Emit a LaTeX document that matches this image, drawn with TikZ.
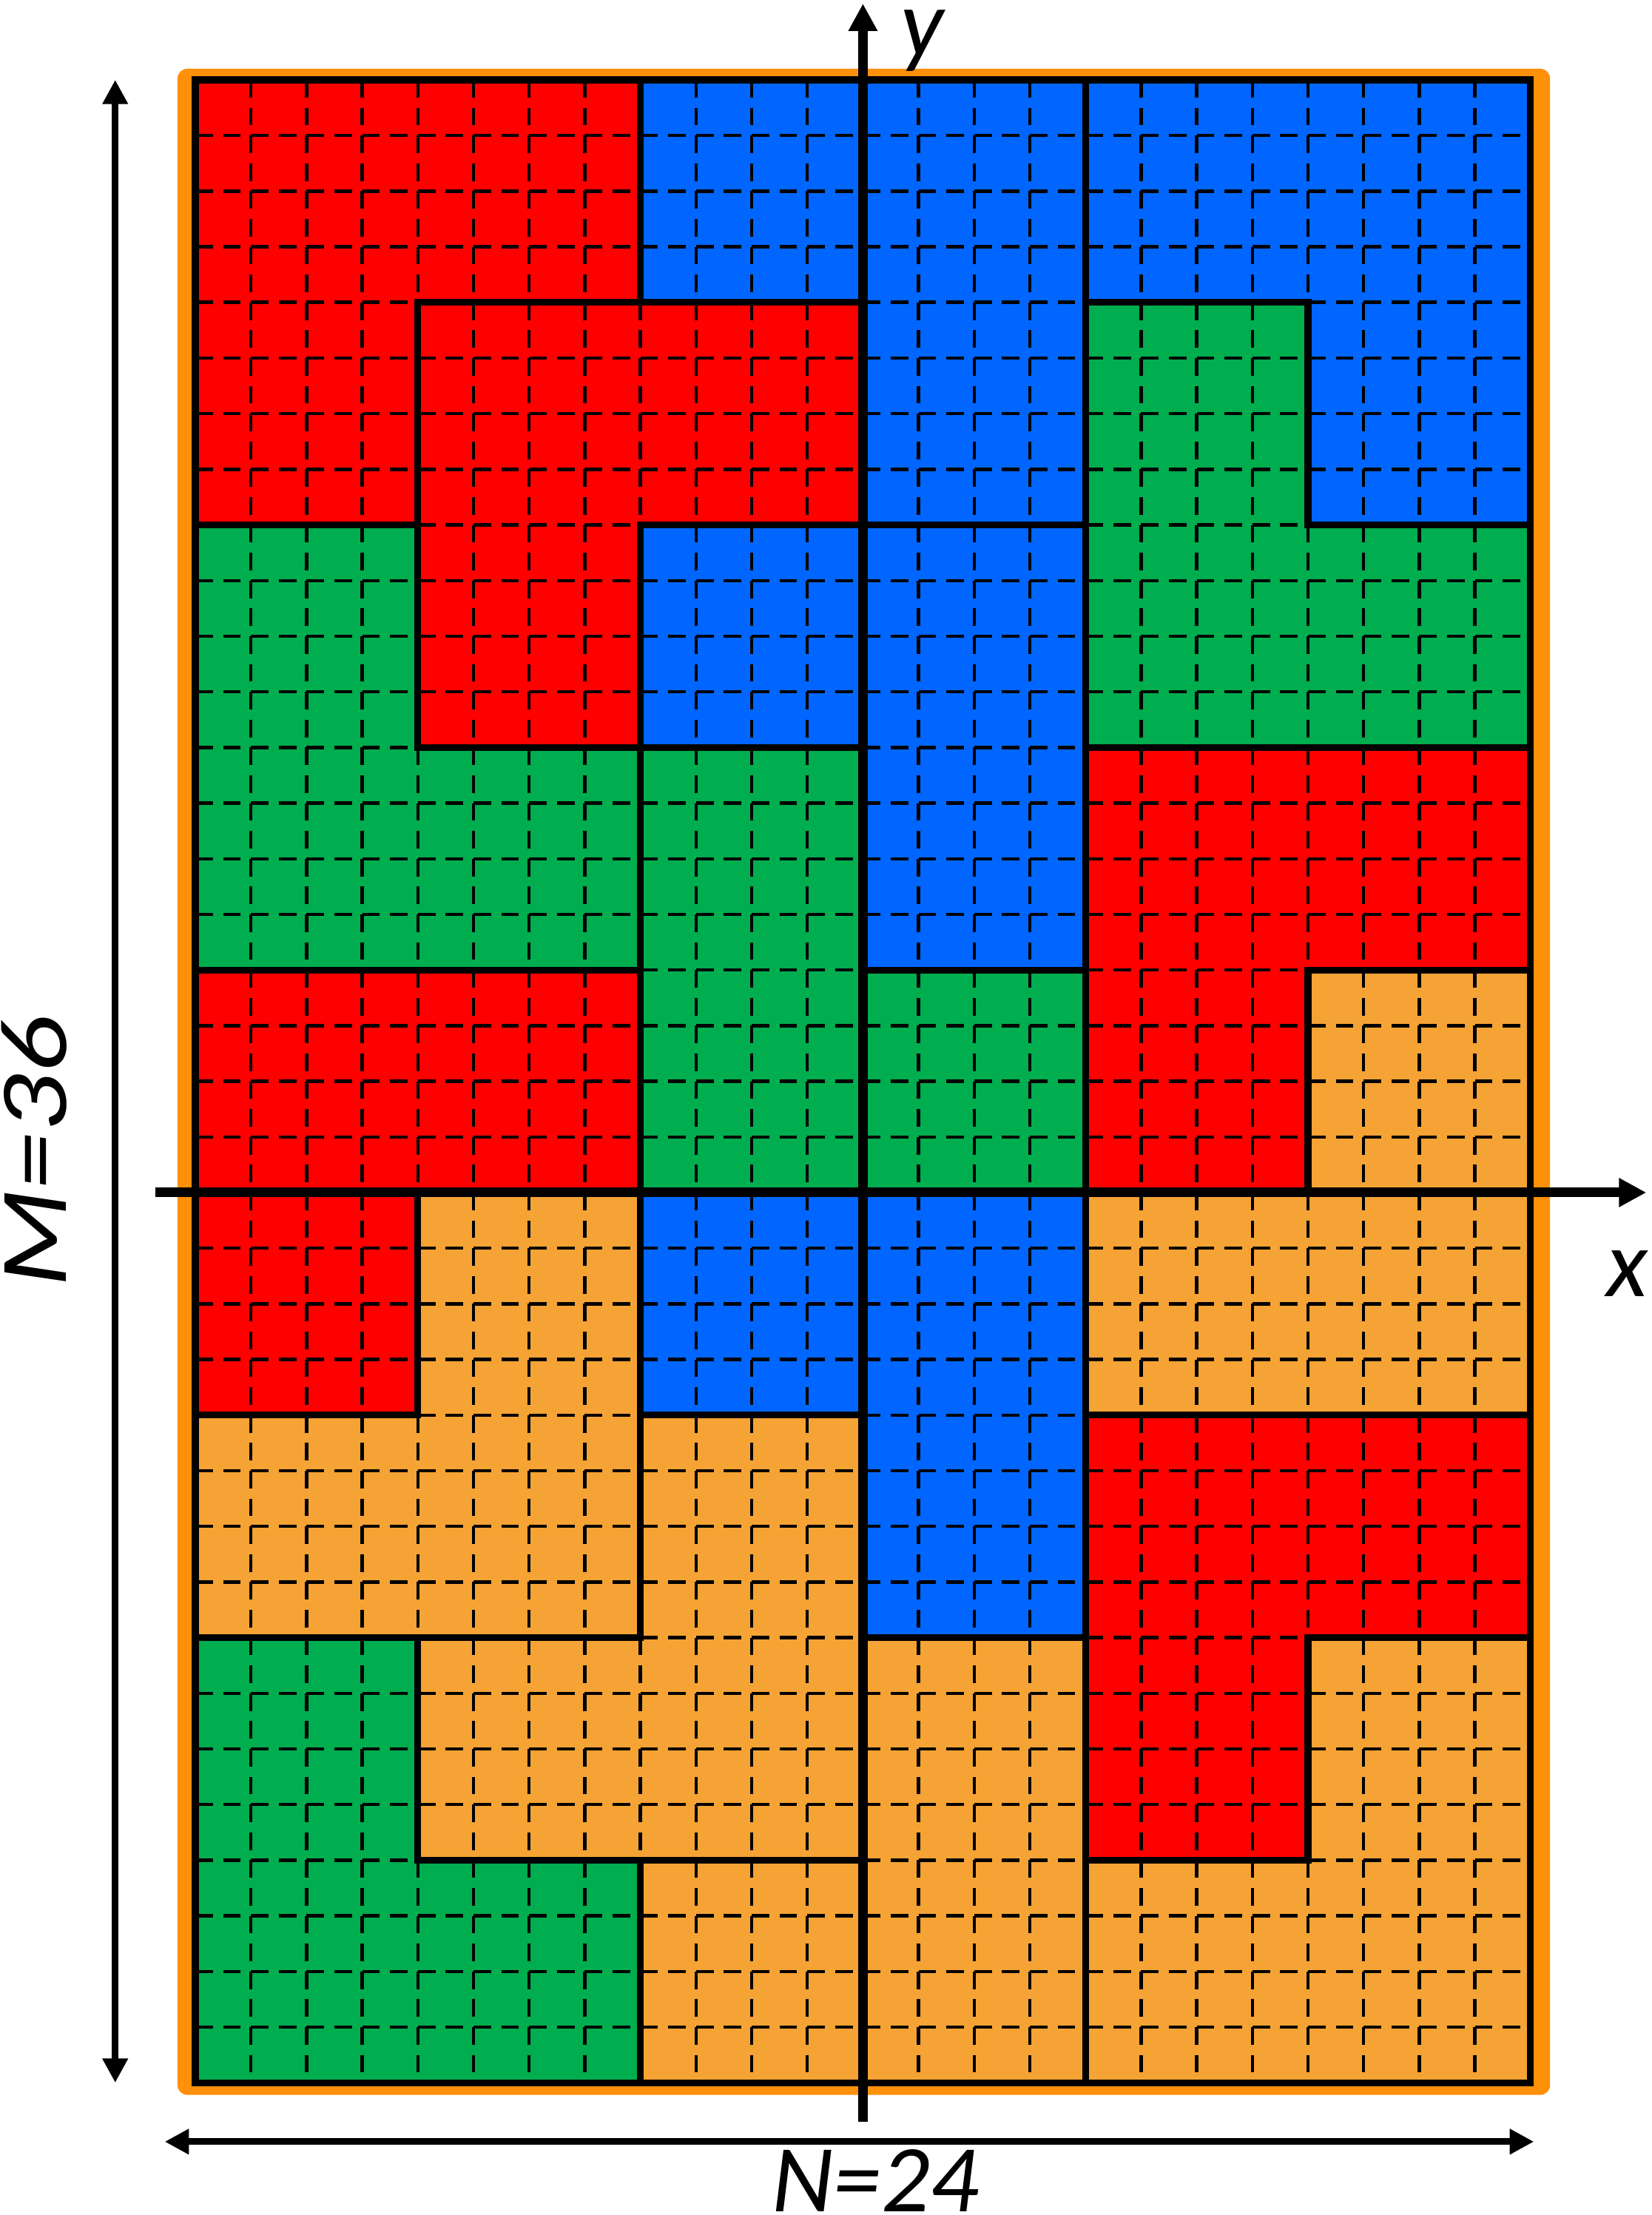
\documentclass[tikz,border=0pt]{standalone}
\usepackage{fontspec}
\setmainfont{Carlito}
\usepackage{graphicx}
\usetikzlibrary{arrows.meta}
\definecolor{pred}{RGB}{255,0,0}
\definecolor{pblue}{RGB}{0,102,255}
\definecolor{pgreen}{RGB}{0,173,79}
\definecolor{porange}{RGB}{245,163,53}
\definecolor{frameorange}{RGB}{255,144,10}
\begin{document}
\begin{tikzpicture}[x=0.5cm,y=0.5cm,
  outline/.style={draw=black,line width=1.75pt,line join=miter},
  gridline/.style={black,line width=0.85pt,dash pattern=on 4.5pt off 2.6131pt},
  axisline/.style={line width=2.46pt,-{Triangle[width=7pt,length=7pt]}},
  dimarrow/.style={line width=1.7pt,{Triangle[width=6.2pt,length=6.2pt]}-{Triangle[width=6.2pt,length=6.2pt]}},
  lbl/.style={font=\fontsize{24.5}{29}\selectfont\itshape,inner sep=0pt}]
\useasboundingbox (-3.511,-2.378) rectangle (26.18,37.436);
% orange frame
\fill[frameorange,rounded corners=2.5pt] (-0.32,-0.22) rectangle (24.35,36.2);
% piece fills
\fill[pred]    (0,36) -- (8,36) -- (8,32) -- (4,32) -- (4,28) -- (0,28) -- cycle;
\fill[pblue]   (8,36) -- (16,36) -- (16,28) -- (12,28) -- (12,32) -- (8,32) -- cycle;
\fill[pblue]   (16,36) -- (24,36) -- (24,28) -- (20,28) -- (20,32) -- (16,32) -- cycle;
\fill[pred]    (4,32) -- (12,32) -- (12,28) -- (8,28) -- (8,24) -- (4,24) -- cycle;
\fill[pgreen]  (16,32) -- (20,32) -- (20,28) -- (24,28) -- (24,24) -- (16,24) -- cycle;
\fill[pgreen]  (0,28) -- (4,28) -- (4,24) -- (8,24) -- (8,20) -- (0,20) -- cycle;
\fill[pblue]   (8,28) -- (16,28) -- (16,20) -- (12,20) -- (12,24) -- (8,24) -- cycle;
\fill[pgreen]  (8,24) -- (12,24) -- (12,20) -- (16,20) -- (16,16) -- (8,16) -- cycle;
\fill[pred]    (16,24) -- (24,24) -- (24,20) -- (20,20) -- (20,16) -- (16,16) -- cycle;
\fill[pred]    (0,20) -- (8,20) -- (8,16) -- (4,16) -- (4,12) -- (0,12) -- cycle;
\fill[porange] (20,20) -- (24,20) -- (24,12) -- (16,12) -- (16,16) -- (20,16) -- cycle;
\fill[porange] (4,16) -- (8,16) -- (8,8) -- (0,8) -- (0,12) -- (4,12) -- cycle;
\fill[pblue]   (8,16) -- (16,16) -- (16,8) -- (12,8) -- (12,12) -- (8,12) -- cycle;
\fill[porange] (8,12) -- (12,12) -- (12,4) -- (4,4) -- (4,8) -- (8,8) -- cycle;
\fill[pred]    (16,12) -- (24,12) -- (24,8) -- (20,8) -- (20,4) -- (16,4) -- cycle;
\fill[pgreen]  (0,8) -- (4,8) -- (4,4) -- (8,4) -- (8,0) -- (0,0) -- cycle;
\fill[porange] (12,8) -- (16,8) -- (16,0) -- (8,0) -- (8,4) -- (12,4) -- cycle;
\fill[porange] (20,8) -- (24,8) -- (24,0) -- (16,0) -- (16,4) -- (20,4) -- cycle;
% dashed cell grid
\foreach \i in {1,...,35} \draw[gridline] (0,\i) -- (24,\i);
\foreach \i in {1,...,23} \draw[gridline] (\i,36) -- (\i,0);
% piece outlines
\draw[outline] (0,36) -- (8,36) -- (8,32) -- (4,32) -- (4,28) -- (0,28) -- cycle;
\draw[outline] (8,36) -- (16,36) -- (16,28) -- (12,28) -- (12,32) -- (8,32) -- cycle;
\draw[outline] (16,36) -- (24,36) -- (24,28) -- (20,28) -- (20,32) -- (16,32) -- cycle;
\draw[outline] (4,32) -- (12,32) -- (12,28) -- (8,28) -- (8,24) -- (4,24) -- cycle;
\draw[outline] (16,32) -- (20,32) -- (20,28) -- (24,28) -- (24,24) -- (16,24) -- cycle;
\draw[outline] (0,28) -- (4,28) -- (4,24) -- (8,24) -- (8,20) -- (0,20) -- cycle;
\draw[outline] (8,28) -- (16,28) -- (16,20) -- (12,20) -- (12,24) -- (8,24) -- cycle;
\draw[outline] (8,24) -- (12,24) -- (12,20) -- (16,20) -- (16,16) -- (8,16) -- cycle;
\draw[outline] (16,24) -- (24,24) -- (24,20) -- (20,20) -- (20,16) -- (16,16) -- cycle;
\draw[outline] (0,20) -- (8,20) -- (8,16) -- (4,16) -- (4,12) -- (0,12) -- cycle;
\draw[outline] (20,20) -- (24,20) -- (24,12) -- (16,12) -- (16,16) -- (20,16) -- cycle;
\draw[outline] (4,16) -- (8,16) -- (8,8) -- (0,8) -- (0,12) -- (4,12) -- cycle;
\draw[outline] (8,16) -- (16,16) -- (16,8) -- (12,8) -- (12,12) -- (8,12) -- cycle;
\draw[outline] (8,12) -- (12,12) -- (12,4) -- (4,4) -- (4,8) -- (8,8) -- cycle;
\draw[outline] (16,12) -- (24,12) -- (24,8) -- (20,8) -- (20,4) -- (16,4) -- cycle;
\draw[outline] (0,8) -- (4,8) -- (4,4) -- (8,4) -- (8,0) -- (0,0) -- cycle;
\draw[outline] (12,8) -- (16,8) -- (16,0) -- (8,0) -- (8,4) -- (12,4) -- cycle;
\draw[outline] (20,8) -- (24,8) -- (24,0) -- (16,0) -- (16,4) -- (20,4) -- cycle;
% axes
\coordinate (ybot) at (12,-0.70);
\coordinate (ytop) at (12,37.37);
\coordinate (xleft) at (-0.72,16);
\coordinate (xright) at (26.08,16);
\draw[axisline] (ybot) -- (ytop);
\draw[axisline] (xleft) -- (xright);
% dimension arrows
\coordinate (mtop) at (-1.44,36);
\coordinate (mbot) at (-1.44,0);
\coordinate (nleft) at (-0.55,-1.06);
\coordinate (nright) at (24.06,-1.06);
\draw[dimarrow] (mbot) -- (mtop);
\draw[dimarrow] (nleft) -- (nright);
% labels
\node[lbl] (ylab) at (13.06,36.70) {y};
\node[lbl] (xlab) at (25.74,14.54) {x};
\node[lbl,rotate=90] (mlab) at (-2.90,16.73) {\scalebox{1.2}[1]{M=36}};
\node[lbl] (nlab) at (12.22,-1.76) {N=24};
\end{tikzpicture}
\end{document}
